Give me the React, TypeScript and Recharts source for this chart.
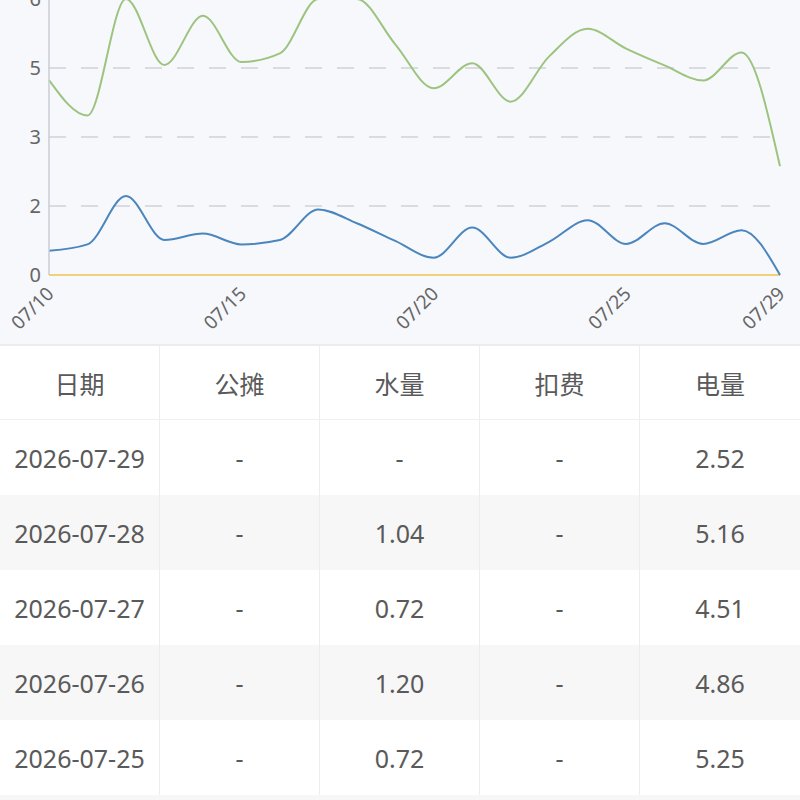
import { LineChart, Line, CartesianGrid, XAxis, YAxis } from "recharts";

const dates = [
  "07/10", "07/11", "07/12", "07/13", "07/14", "07/15", "07/16", "07/17", "07/18", "07/19",
  "07/20", "07/21", "07/22", "07/23", "07/24", "07/25", "07/26", "07/27", "07/28", "07/29",
];
const years = "2026";

// 水量
const water: (number | null)[] = [
  0.56, 0.71, 1.83, 0.81, 0.96, 0.71, 0.81, 1.52, 1.2, 0.79,
  0.4, 1.1, 0.4, 0.77, 1.27, 0.72, 1.2, 0.72, 1.04, null,
];
// 电量
const power: (number | null)[] = [
  4.52, 3.7, 6.4, 4.87, 6.01, 4.94, 5.14, 6.4, 6.4, 5.35,
  4.33, 4.91, 4.02, 5.07, 5.71, 5.25, 4.86, 4.51, 5.16, 2.52,
];
// 扣费
const fee: (number | null)[] = [
  null, null, null, null, null, null, null, null, null, null,
  null, null, null, null, null, null, null, null, null, null,
];
// 公摊
const share: (number | null)[] = fee;

const xTicks = ["07/10", "07/15", "07/20", "07/25", "07/29"];
const yTicks = [0, 1.6, 3.2, 4.8, 6.4];
const headers = ["日期", "公摊", "水量", "扣费", "电量"];

const chartData = dates.map((d, i) => ({
  date: d,
  water: water[i] ?? 0,
  power: power[i] ?? 0,
  fee: fee[i] ?? 0,
}));

const fmt = (v: number | null) => (v == null ? "-" : v.toFixed(2));

// newest first, only the rows that fit on screen
const tableRows = dates
  .map((d, i) => [
    `${years}-${d.replace("/", "-")}`,
    fmt(share[i]),
    fmt(water[i]),
    fmt(fee[i]),
    fmt(power[i]),
  ])
  .reverse()
  .slice(0, 5);

const FONT = '"Noto Sans", "Noto Sans CJK SC", sans-serif';

const DateTick = ({ x, y, payload }: any) => (
  <g transform={`translate(${x + 6},${y + 12})`}>
    <text textAnchor="end" transform="rotate(-45)" fontSize={19} fill="#666" fontFamily={FONT}>
      {payload.value}
    </text>
  </g>
);

const cell = (i: number): React.CSSProperties => ({
  width: 160,
  height: "100%",
  display: "flex",
  alignItems: "center",
  justifyContent: "center",
  borderRight: i < 4 ? "1.5px solid #ededed" : "none",
  boxSizing: "border-box",
});

export default function App() {
  return (
    <div
      style={{
        position: "absolute",
        left: 0,
        top: 0,
        width: 800,
        height: 800,
        overflow: "hidden",
        background: "#f7f7f7",
        fontFamily: FONT,
      }}
    >
      <div style={{ position: "relative", height: 344, background: "#f7f8fc", overflow: "hidden" }}>
        <div style={{ position: "absolute", top: -20, left: 0 }}>
          <LineChart width={800} height={370} data={chartData} margin={{ top: 19, right: 20, bottom: 15, left: 0 }}>
            <CartesianGrid vertical={false} strokeDasharray="17 15" stroke="#cfd1d6" strokeWidth={1.5} />
            <XAxis
              dataKey="date"
              ticks={xTicks}
              interval={0}
              height={60}
              axisLine={false}
              tickLine={false}
              tick={<DateTick />}
            />
            <YAxis
              width={49}
              domain={[0, 6.4]}
              ticks={yTicks}
              interval={0}
              tickFormatter={(v: number) => String(Math.round(v))}
              tick={{ fill: "#666", fontSize: 20, fontFamily: FONT }}
              axisLine={{ stroke: "#c9ccd4", strokeWidth: 1.5 }}
              tickLine={false}
            />
            <Line type="monotone" dataKey="fee" stroke="#f0d078" strokeWidth={2} dot={false} isAnimationActive={false} />
            <Line type="monotone" dataKey="water" stroke="#4a86bd" strokeWidth={2} dot={false} isAnimationActive={false} />
            <Line type="monotone" dataKey="power" stroke="#9cc47f" strokeWidth={2} dot={false} isAnimationActive={false} />
          </LineChart>
        </div>
      </div>
      <div style={{ height: 2, background: "#ececf0" }} />
      <div
        style={{
          display: "flex",
          height: 74,
          fontSize: 25,
          color: "#5a5a5a",
          background: "#fff",
          borderBottom: "1.5px solid #f0f0f0",
          boxSizing: "border-box",
        }}
      >
        {headers.map((h, i) => (
          <div key={h} style={cell(i)}>
            {h}
          </div>
        ))}
      </div>
      {tableRows.map((row, r) => (
        <div
          key={row[0]}
          style={{
            display: "flex",
            height: 75,
            fontSize: 25,
            color: "#5a5a5a",
            background: r % 2 === 1 ? "#f7f7f7" : "#fff",
          }}
        >
          {row.map((v, i) => (
            <div key={i} style={cell(i)}>
              {v}
            </div>
          ))}
        </div>
      ))}
    </div>
  );
}
